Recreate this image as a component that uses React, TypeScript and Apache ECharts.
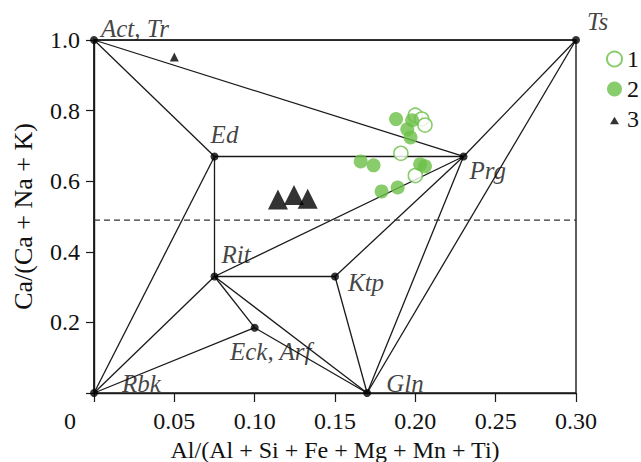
import React, { useEffect, useRef } from "react";
import * as echarts from "echarts";

// Diagram vertices (end-member compositions)
const vertexNames = ["Act, Tr", "Ts", "Ed", "Prg", "Rit", "Ktp", "Eck, Arf", "Rbk", "Gln"];
const vertexX = [0, 0.3, 0.075, 0.23, 0.075, 0.15, 0.1, 0, 0.17];
const vertexY = [1.0, 1.0, 0.67, 0.67, 0.33, 0.33, 0.185, 0, 0];

// Tie lines between vertices
const edges: [string, string][] = [
  ["Act, Tr", "Ts"],
  ["Act, Tr", "Ed"],
  ["Act, Tr", "Prg"],
  ["Act, Tr", "Rbk"],
  ["Ts", "Prg"],
  ["Ts", "Gln"],
  ["Ed", "Prg"],
  ["Ed", "Rit"],
  ["Ed", "Rbk"],
  ["Rit", "Prg"],
  ["Rit", "Ktp"],
  ["Rit", "Rbk"],
  ["Rit", "Eck, Arf"],
  ["Rit", "Gln"],
  ["Ktp", "Prg"],
  ["Ktp", "Gln"],
  ["Eck, Arf", "Rbk"],
  ["Eck, Arf", "Gln"],
  ["Prg", "Gln"],
];

// Divider line
const dividerY = 0.49;

// Series 1 (open circles)
const s1X = [0.2, 0.204, 0.206, 0.191, 0.2];
const s1Y = [0.787, 0.776, 0.759, 0.679, 0.616];
// Series 2 (filled circles)
const s2X = [0.188, 0.198, 0.195, 0.197, 0.166, 0.174, 0.203, 0.206, 0.179, 0.189];
const s2Y = [0.776, 0.773, 0.747, 0.724, 0.656, 0.645, 0.648, 0.642, 0.571, 0.582];
// Series 3 (triangles): small and large
const s3smallX = [0.05];
const s3smallY = [0.952];
const s3bigX = [0.1145, 0.1245, 0.133];
const s3bigY = [0.548, 0.561, 0.55];

const xTicks = [0, 0.05, 0.1, 0.15, 0.2, 0.25, 0.3];
const yTicks = [0, 0.2, 0.4, 0.6, 0.8, 1.0];

const labelPlacement: Record<string, { position: string; offset: number[] }> = {
  "Act, Tr": { position: "right", offset: [0, -12] },
  Ts: { position: "right", offset: [4, -19] },
  Ed: { position: "top", offset: [10, -2] },
  Prg: { position: "right", offset: [-1, 14] },
  Rit: { position: "right", offset: [0, -22] },
  Ktp: { position: "right", offset: [6, 6] },
  "Eck, Arf": { position: "bottom", offset: [16, 4] },
  Rbk: { position: "right", offset: [21, -10] },
  Gln: { position: "right", offset: [12, -10] },
};

const GREEN = "#6cbf47";
const INK = "#111";
const SERIF = "'Liberation Serif', 'Times New Roman', serif";

export default function App() {
  const ref = useRef<HTMLDivElement>(null);
  useEffect(() => {
    if (!ref.current) return;
    const chart = echarts.init(ref.current, undefined, { renderer: "svg" });
    const idx = (n: string) => vertexNames.indexOf(n);
    const edgeSeries = edges.map(([a, b]) => ({
      type: "line",
      silent: true,
      symbol: "none",
      z: 2,
      lineStyle: { color: "#1a1a1a", width: 1.3 },
      data: [
        [vertexX[idx(a)], vertexY[idx(a)]],
        [vertexX[idx(b)], vertexY[idx(b)]],
      ],
    }));
    const option: any = {
      animation: false,
      backgroundColor: "#fff",
      textStyle: { fontFamily: SERIF },
      grid: {
        left: 94,
        top: 40,
        right: 65,
        bottom: 69,
        outerBoundsMode: "none",
        containLabel: false,
        show: true,
        borderColor: "#1a1a1a",
        borderWidth: 1.4,
      },
      xAxis: {
        type: "value",
        min: 0,
        max: 0.3,
        interval: 0.05,
        splitLine: { show: false },
        axisLine: { show: true, onZero: false, lineStyle: { color: "#1a1a1a", width: 1.4 } },
        axisTick: { show: true, length: 9, lineStyle: { color: "#1a1a1a", width: 1.2 } },
        axisLabel: {
          margin: 16,
          color: INK,
          fontFamily: SERIF,
          fontSize: 24,
          showMaxLabel: true,
          showMinLabel: true,
          formatter: (v: number) => {
            const t = xTicks.find((k) => Math.abs(k - v) < 1e-9);
            if (t === undefined) return "";
            return t === 0 ? "{o|0}" : t.toFixed(2);
          },
          rich: {
            o: { fontFamily: SERIF, fontSize: 24, color: INK, padding: [0, 48, 0, 0] },
          },
        },
        name: "Al/(Al + Si + Fe + Mg + Mn + Ti)",
        nameLocation: "middle",
        nameGap: 37,
        nameTextStyle: { fontFamily: SERIF, fontSize: 24, color: INK, lineHeight: 24 },
      },
      yAxis: {
        type: "value",
        min: 0,
        max: 1,
        interval: 0.2,
        splitLine: { show: false },
        axisLine: { show: true, onZero: false, lineStyle: { color: "#1a1a1a", width: 1.4 } },
        axisTick: { show: true, length: 8, lineStyle: { color: "#1a1a1a", width: 1.2 } },
        axisLabel: {
          margin: 14,
          color: INK,
          fontFamily: SERIF,
          fontSize: 24,
          formatter: (v: number) => {
            const t = yTicks.find((k) => Math.abs(k - v) < 1e-9);
            if (t === undefined || t === 0) return "";
            return t.toFixed(1);
          },
        },
        name: "Ca/(Ca + Na + K)",
        nameLocation: "middle",
        nameRotate: 90,
        nameGap: 58,
        nameTextStyle: { fontFamily: SERIF, fontSize: 26, color: INK },
      },
      legend: {
        orient: "vertical",
        left: 606,
        top: 47,
        padding: 0,
        itemWidth: 15,
        itemHeight: 15,
        itemGap: 6,
        selectedMode: false,
        textStyle: { fontFamily: SERIF, fontSize: 24, color: INK, lineHeight: 20 },
        data: [
          { name: "1" },
          { name: "2" },
          { name: "3", icon: "path://M0,0M20,20M10,7L16,17L4,17Z" },
        ],
      },
      series: [
        ...edgeSeries,
        {
          type: "line",
          silent: true,
          symbol: "none",
          z: 2,
          lineStyle: { color: "#333", width: 1.2, type: [6, 4] },
          data: [
            [xTicks[0], dividerY],
            [xTicks[xTicks.length - 1], dividerY],
          ],
        },
        {
          type: "scatter",
          name: "vertices",
          z: 3,
          symbol: "circle",
          symbolSize: 8,
          itemStyle: { color: "#000" },
          data: vertexNames.map((n, i) => ({
            value: [vertexX[i], vertexY[i]],
            name: n,
            label: {
              show: true,
              formatter: n,
              position: labelPlacement[n].position,
              offset: labelPlacement[n].offset,
              distance: 3,
              fontFamily: SERIF,
              fontStyle: "italic",
              fontSize: 25,
              color: INK,
            },
          })),
        },
        {
          type: "scatter",
          name: "1",
          z: 4,
          symbol: "circle",
          symbolSize: 14,
          itemStyle: { color: "#fff", borderColor: GREEN, borderWidth: 1.6 },
          data: s1X.map((x, i) => [x, s1Y[i]]),
        },
        {
          type: "scatter",
          name: "2",
          z: 5,
          symbol: "circle",
          symbolSize: 14,
          itemStyle: { color: GREEN },
          data: s2X.map((x, i) => [x, s2Y[i]]),
        },
        {
          type: "scatter",
          name: "3",
          z: 5,
          symbol: "triangle",
          symbolSize: 9,
          itemStyle: { color: "#000" },
          data: s3smallX.map((x, i) => [x, s3smallY[i]]),
        },
        {
          type: "scatter",
          name: "3",
          z: 5,
          symbol: "triangle",
          symbolSize: 20,
          itemStyle: { color: "#000" },
          data: s3bigX.map((x, i) => [x, s3bigY[i]]),
        },
      ],
    };
    chart.setOption(option);
    return () => chart.dispose();
  }, []);
  return (
    <div
      ref={ref}
      style={{ position: "absolute", left: 0, top: 0, width: 641, height: 462 }}
    />
  );
}
